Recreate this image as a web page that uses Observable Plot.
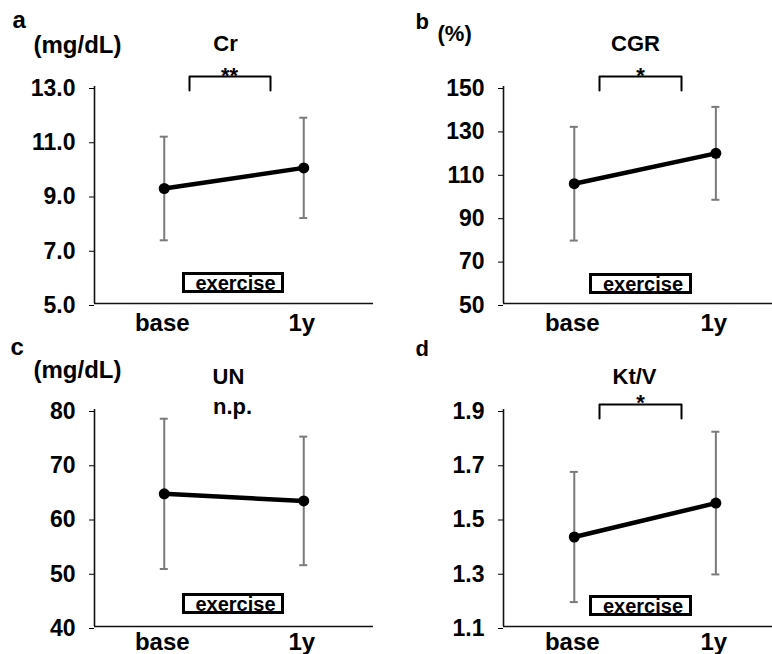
<!DOCTYPE html>
<html><head><meta charset="utf-8">
<script src="https://cdn.jsdelivr.net/npm/d3@7"></script>
<script src="https://cdn.jsdelivr.net/npm/@observablehq/plot@0.6"></script>
<style>
body{margin:0;background:#fff;}
#chart{position:relative;width:772px;height:654px;overflow:hidden;font-family:"Liberation Sans",Arial,sans-serif;background:#fff;}
#chart svg{position:absolute;}
</style></head><body><div id="chart"></div>
<script>
// ---- data ----
const timepoints = ["base", "1y"];
const panelLetters = ["a", "b", "c", "d"];
const panelTitles = ["Cr", "CGR", "UN", "Kt/V"];
const panelUnits = ["(mg/dL)", "(%)", "(mg/dL)", ""];
const significance = ["**", "*", "n.p.", "*"];
const crMean = [9.24, 10.0],   crSD = [1.91, 1.85];
const cgrMean = [105.2, 119.2], cgrSD = [26.2, 21.4];
const unMean = [64.45, 63.15], unSD = [13.85, 11.85];
const ktvMean = [1.43, 1.555], ktvSD = [0.24, 0.263];
const crTicks = [5, 7, 9, 11, 13];
const cgrTicks = [50, 70, 90, 110, 130, 150];
const unTicks = [40, 50, 60, 70, 80];
const ktvTicks = [1.1, 1.3, 1.5, 1.7, 1.9];
const tickDecimals = [1, 0, 0, 1];
const boxLabel = "exercise";

// ---- layout (pixels, panel-local) ----
const W = 386;
const layouts = [
  {left:0, top:0, height:345, mt:86, mb:42, ml:94, mr:13, xdom:[-0.5,1.5], xpad:10,
   letter:[12,20.3,24], unit:[33,45.3,24], title:[225,43], sig:[229,75.7,22],
   bracket:[189,270,76,90], box:[182,284,272,293]},
  {left:386, top:0, height:345, mt:86, mb:42, ml:117, mr:0, xdom:[-0.5,1.4], xpad:10,
   letter:[29,21,22], unit:[51,33,22], title:[249,43], sig:[254,75.7,22],
   bracket:[213,295,76,90], box:[203,306,273,294]},
  {left:0, top:330, height:324, mt:79, mb:28, ml:94, mr:13, xdom:[-0.5,1.5], xpad:6,
   letter:[10,17.3,24], unit:[33,40.3,24], title:[228,46], sig:[232,76,22],
   bracket:null, box:[182,284,263,284]},
  {left:386, top:330, height:324, mt:79, mb:28, ml:117, mr:0, xdom:[-0.5,1.4], xpad:6,
   letter:[29,18,22], unit:null, title:[248,46], sig:[254,72,22],
   bracket:[213,295,74,88], box:[203,306,265,286]}
];

function label(L, txt, x, y, fs, anchor) {
  return Plot.text([txt], {frameAnchor:"top-left", dx:x - L.ml, dy:y - L.mt, text:d => d,
    fontSize:fs, fontWeight:"bold", textAnchor:anchor, lineAnchor:"middle", fill:"black"});
}

function panel(i, mean, sd, ticks) {
  const L = layouts[i];
  const ymin = ticks[0], ymax = ticks[ticks.length - 1];
  const pxPerX = (W - L.ml - L.mr) / (L.xdom[1] - L.xdom[0]);
  const fx = px => L.xdom[0] + (px - L.ml) / pxPerX;
  const fy = py => ymax - (py - L.mt) / (L.height - L.mt - L.mb) * (ymax - ymin);
  const rows = timepoints.map((t, j) => ({t, x:j, mean:mean[j], lo:mean[j] - sd[j], hi:mean[j] + sd[j]}));
  const caps = rows.flatMap(r => [{x:r.x, v:r.lo}, {x:r.x, v:r.hi}]);
  const capHalf = 4 / pxPerX;
  const marks = [
    Plot.ruleY([ymin], {stroke:"#111", strokeWidth:1.6}),
    Plot.ruleX([L.xdom[0]], {y1:ymin, y2:ymax, stroke:"#111", strokeWidth:1.6}),
    Plot.axisY({ticks, tickSize:5, tickPadding:14, tickFormat:d => d.toFixed(tickDecimals[i]),
      fontSize:23, fontWeight:"bold", label:null, dy:2}),
    Plot.axisX({ticks:[0, 1], tickFormat:d => timepoints[d], tickSize:0, tickPadding:L.xpad,
      fontSize:24, fontWeight:"bold", label:null, dx:-2}),
    Plot.ruleX(rows, {x:"x", y1:"lo", y2:"hi", stroke:"#7a7a7a", strokeWidth:2}),
    Plot.ruleY(caps, {y:"v", x1:d => d.x - capHalf, x2:d => d.x + capHalf, stroke:"#7a7a7a", strokeWidth:2}),
    Plot.line(rows, {x:"x", y:"mean", stroke:"black", strokeWidth:4.5}),
    Plot.dot(rows, {x:"x", y:"mean", r:5.5, fill:"black"}),
    Plot.rect([boxLabel], {x1:fx(L.box[0] + 1.5), x2:fx(L.box[1] - 1.5), y1:fy(L.box[3] - 1.5), y2:fy(L.box[2] + 1.5),
      fill:"white", stroke:"black", strokeWidth:3}),
    Plot.text([boxLabel], {x:fx((L.box[0] + L.box[1]) / 2 + 2), y:fy((L.box[2] + L.box[3]) / 2 + 1), text:d => d,
      fontSize:20, fontWeight:"bold", fill:"black"}),
    label(L, panelLetters[i], L.letter[0], L.letter[1], L.letter[2], "start"),
    label(L, panelTitles[i], L.title[0], L.title[1], 22, "middle"),
    label(L, significance[i], L.sig[0], L.sig[1], L.sig[2], "middle")
  ];
  if (L.unit) marks.push(label(L, panelUnits[i], L.unit[0], L.unit[1], L.unit[2], "start"));
  if (L.bracket) {
    const [bx1, bx2, by1, by2] = L.bracket;
    marks.push(Plot.line([[bx1, by2], [bx1, by1], [bx2, by1], [bx2, by2]].map(([a, b]) => ({x:fx(a), y:fy(b)})),
      {x:"x", y:"y", stroke:"black", strokeWidth:2}));
  }
  const svg = Plot.plot({
    width:W, height:L.height,
    marginTop:L.mt, marginBottom:L.mb, marginLeft:L.ml, marginRight:L.mr,
    x:{domain:L.xdom}, y:{domain:[ymin, ymax]},
    style:{background:"transparent", fontFamily:"'Liberation Sans', Arial, sans-serif", color:"black", overflow:"visible"},
    marks
  });
  svg.style.left = L.left + "px";
  svg.style.top = L.top + "px";
  document.getElementById("chart").appendChild(svg);
}

panel(0, crMean, crSD, crTicks);
panel(1, cgrMean, cgrSD, cgrTicks);
panel(2, unMean, unSD, unTicks);
panel(3, ktvMean, ktvSD, ktvTicks);
</script></body></html>
